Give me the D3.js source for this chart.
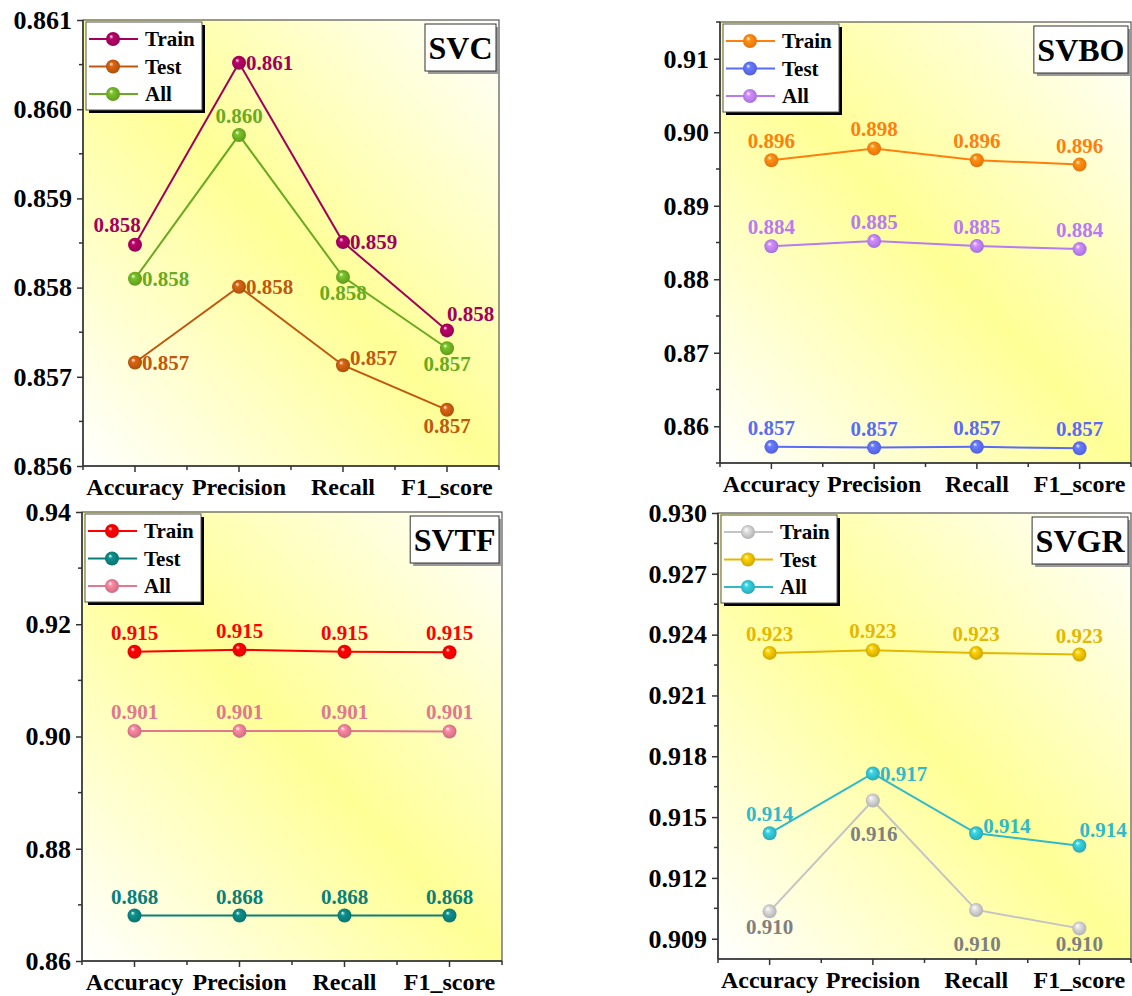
<!DOCTYPE html>
<html>
<head>
<meta charset="utf-8">
<style>
  body { margin: 0; background: #fff; }
  svg { display: block; font-family: "Liberation Serif", "Times New Roman", serif; font-weight: bold; }
  svg text { font-family: "Liberation Serif", "Times New Roman", serif; font-weight: bold; }
</style>
<script src="https://d3js.org/d3.v7.min.js"></script>
</head>
<body>
<svg width="1132" height="996"></svg>
<script>
// categories and series names
var metrics = ["Accuracy", "Precision", "Recall", "F1_score"];
var seriesNames = ["Train", "Test", "All"];

// SVC
var svcTrain = [0.85848, 0.86052, 0.85851, 0.85752];
var svcTest  = [0.85716, 0.85801, 0.85713, 0.85663];
var svcAll   = [0.85810, 0.85971, 0.85812, 0.85732];
var svcTicks = [0.856, 0.857, 0.858, 0.859, 0.860, 0.861];

// SVBO
var svboTrain = [0.8962, 0.8978, 0.8962, 0.8956];
var svboTest  = [0.8572, 0.8571, 0.8572, 0.8570];
var svboAll   = [0.88448, 0.8852, 0.88452, 0.8841];
var svboTicks = [0.86, 0.87, 0.88, 0.89, 0.90, 0.91];

// SVTF
var svtfTrain = [0.9151, 0.91545, 0.9151, 0.9150];
var svtfTest  = [0.8681, 0.8681, 0.8681, 0.8681];
var svtfAll   = [0.9010, 0.9010, 0.9010, 0.9009];
var svtfTicks = [0.86, 0.88, 0.90, 0.92, 0.94];

// SVGR
var svgrTrain = [0.91035, 0.91582, 0.91042, 0.90951];
var svgrTest  = [0.9231, 0.92323, 0.9231, 0.92302];
var svgrAll   = [0.9142, 0.91715, 0.9142, 0.91359];
var svgrTicks = [0.909, 0.912, 0.915, 0.918, 0.921, 0.924, 0.927, 0.930];

// where each value label sits relative to its point: [dx, dy, anchor]
var place = {
  t:  [0, -12, "middle"],
  b:  [0, 23, "middle"],
  bb: [1, 41, "middle"],
  r:  [7, 7, "start"],
  ru: [7, 0, "start"],
  tr: [0, -9, "start"],
  tl: [-18, -13, "middle"]
};

var panels = [
  { title: "SVC", x0: 83, y0: 20, x1: 499, y1: 466, domain: [0.856, 0.861], ticks: svcTicks, fmt: ".3f",
    series: [
      { values: svcTrain, color: "#a3005c", text: "#a3005c", pos: ["tl", "r", "r", "tr"] },
      { values: svcTest,  color: "#c0580f", text: "#c0580f", pos: ["r", "r", "ru", "b"] },
      { values: svcAll,   color: "#6aaa22", text: "#6aaa22", pos: ["r", "t", "b", "b"] }
    ] },
  { title: "SVBO", x0: 720, y0: 22, x1: 1131, y1: 463, domain: [0.855, 0.915], ticks: svboTicks, fmt: ".2f",
    series: [
      { values: svboTrain, color: "#ff7f0e", text: "#ff7f0e", pos: ["t", "t", "t", "t"] },
      { values: svboTest,  color: "#5a6bf5", text: "#5a6bf5", pos: ["t", "t", "t", "t"] },
      { values: svboAll,   color: "#b77bf2", text: "#b77bf2", pos: ["t", "t", "t", "t"] }
    ] },
  { title: "SVTF", x0: 82, y0: 512, x1: 502, y1: 961, domain: [0.86, 0.94], ticks: svtfTicks, fmt: ".2f",
    series: [
      { values: svtfTrain, color: "#ff0000", text: "#ff0000", pos: ["t", "t", "t", "t"] },
      { values: svtfTest,  color: "#0a7f7a", text: "#0a7f7a", pos: ["t", "t", "t", "t"] },
      { values: svtfAll,   color: "#e0788e", text: "#e0788e", pos: ["t", "t", "t", "t"] }
    ] },
  { title: "SVGR", x0: 718, y0: 513, x1: 1131, y1: 959, domain: [0.908, 0.930], ticks: svgrTicks, fmt: ".3f",
    series: [
      { values: svgrTrain, color: "#c4c4c4", text: "#808080", pos: ["b", "bb", "bb", "b"] },
      { values: svgrTest,  color: "#e5b700", text: "#e5b700", pos: ["t", "t", "t", "t"] },
      { values: svgrAll,   color: "#30bac8", text: "#30bac8", pos: ["t", "r", "ru", "tr"] }
    ] }
];

var svg = d3.select("svg");
var defs = svg.append("defs");

// background gradient of the plot areas
var bg = defs.append("linearGradient").attr("id", "bg")
  .attr("x1", 0).attr("y1", 1).attr("x2", 1).attr("y2", 0);
bg.append("stop").attr("offset", 0).attr("stop-color", "#ffffff");
bg.append("stop").attr("offset", 0.5).attr("stop-color", "#ffff96");
bg.append("stop").attr("offset", 1).attr("stop-color", "#ffffff");

function sphere(color) {
  var id = "sp" + color.replace("#", "");
  if (defs.select("#" + id).empty()) {
    var g = defs.append("radialGradient").attr("id", id)
      .attr("cx", 0.5).attr("cy", 0.5).attr("r", 0.55).attr("fx", 0.35).attr("fy", 0.3);
    g.append("stop").attr("offset", 0).attr("stop-color", "#ffffff");
    g.append("stop").attr("offset", 0.28).attr("stop-color", d3.color(color).brighter(0.4));
    g.append("stop").attr("offset", 1).attr("stop-color", d3.color(color).darker(0.35));
  }
  return "url(#" + id + ")";
}

panels.forEach(function(p) {
  var w = p.x1 - p.x0, h = p.y1 - p.y0;
  var g = svg.append("g").attr("transform", "translate(" + p.x0 + "," + p.y0 + ")");

  var x = d3.scaleBand().domain(metrics).range([0, w]);
  var y = d3.scaleLinear().domain(p.domain).range([h, 0]);
  var cx = function(i) { return x(metrics[i]) + x.bandwidth() / 2; };

  g.append("rect").attr("width", w).attr("height", h).attr("fill", "url(#bg)");
  g.append("rect").attr("width", w).attr("height", h)
    .attr("fill", "none").attr("stroke", "#555").attr("stroke-width", 1.2);

  // x axis
  var xa = g.append("g").attr("transform", "translate(0," + h + ")")
    .call(d3.axisBottom(x).tickSize(6).tickPadding(6))
    .attr("font-family", null).attr("font-size", null);
  xa.select(".domain").remove();
  xa.selectAll("text").attr("font-size", 24).attr("fill", "#000");
  xa.selectAll("line").attr("stroke", "#333").attr("stroke-width", 1.5);
  var xMinor = metrics.map(function(m) { return x(m); }).concat([w]);
  xa.selectAll(".minor").data(xMinor).enter().append("line")
    .attr("x1", function(d) { return d; }).attr("x2", function(d) { return d; })
    .attr("y1", 0).attr("y2", 4).attr("stroke", "#333").attr("stroke-width", 1.5);

  // y axis
  var ya = g.append("g")
    .call(d3.axisLeft(y).tickValues(p.ticks).tickFormat(d3.format(p.fmt)).tickSize(6).tickPadding(5))
    .attr("font-family", null).attr("font-size", null);
  ya.select(".domain").remove();
  ya.selectAll("text").attr("font-size", 26).attr("fill", "#000");
  ya.selectAll("line").attr("stroke", "#333").attr("stroke-width", 1.5);
  var step = p.ticks[1] - p.ticks[0], yMinor = [];
  for (var i = -1; i < p.ticks.length; i++) {
    var v = p.ticks[0] + (i + 0.5) * step;
    if (v >= p.domain[0] - 1e-9 && v <= p.domain[1] + 1e-9) yMinor.push(v);
  }
  ya.selectAll(".minor").data(yMinor).enter().append("line")
    .attr("x1", -4).attr("x2", 0)
    .attr("y1", function(d) { return y(d); }).attr("y2", function(d) { return y(d); })
    .attr("stroke", "#333").attr("stroke-width", 1.5);

  // axis lines
  g.append("line").attr("x1", 0).attr("x2", 0).attr("y1", 0).attr("y2", h)
    .attr("stroke", "#333").attr("stroke-width", 1.5);
  g.append("line").attr("x1", 0).attr("x2", w).attr("y1", h).attr("y2", h)
    .attr("stroke", "#333").attr("stroke-width", 1.5);

  var line = d3.line().x(function(d, i) { return cx(i); }).y(function(d) { return y(d); });

  p.series.forEach(function(s) {
    g.append("path").datum(s.values).attr("d", line)
      .attr("fill", "none").attr("stroke", s.color).attr("stroke-width", 2);
  });
  p.series.forEach(function(s) {
    g.selectAll(null).data(s.values).enter().append("circle")
      .attr("cx", function(d, i) { return cx(i); })
      .attr("cy", function(d) { return y(d); })
      .attr("r", 7).attr("fill", sphere(s.color));
  });
  p.series.forEach(function(s) {
    g.selectAll(null).data(s.values).enter().append("text")
      .attr("x", function(d, i) { return cx(i) + place[s.pos[i]][0]; })
      .attr("y", function(d, i) { return y(d) + place[s.pos[i]][1]; })
      .attr("text-anchor", function(d, i) { return place[s.pos[i]][2]; })
      .attr("font-size", 21).attr("fill", s.text)
      .text(function(d) { return d3.format(".3f")(d); });
  });

  // legend
  var lg = g.append("g").attr("transform", "translate(3,2)");
  lg.append("rect").attr("x", 3).attr("y", 3).attr("width", 116).attr("height", 88).attr("fill", "#000");
  lg.append("rect").attr("width", 116).attr("height", 88).attr("fill", "#fff")
    .attr("stroke", "#555").attr("stroke-width", 1);
  seriesNames.forEach(function(n, k) {
    var s = p.series[k], yy = 17 + k * 27.5;
    lg.append("line").attr("x1", 3).attr("x2", 52).attr("y1", yy).attr("y2", yy)
      .attr("stroke", s.color).attr("stroke-width", 2);
    lg.append("circle").attr("cx", 27).attr("cy", yy).attr("r", 7).attr("fill", sphere(s.color));
    lg.append("text").attr("x", 59).attr("y", yy + 7).attr("font-size", 21).attr("fill", "#000").text(n);
  });

  // title box
  var tg = g.append("g");
  var tt = tg.append("text").attr("font-size", 32).attr("fill", "#000").text(p.title);
  var tw = tt.node().getComputedTextLength();
  var bw = tw + 7, bx = w - 3 - bw;
  tg.insert("rect", "text").attr("x", bx + 3).attr("y", 7).attr("width", bw).attr("height", 47).attr("fill", "#999");
  tg.insert("rect", "text").attr("x", bx).attr("y", 4).attr("width", bw).attr("height", 47)
    .attr("fill", "#fff").attr("stroke", "#333").attr("stroke-width", 1);
  tt.attr("x", bx + bw / 2).attr("y", 39).attr("text-anchor", "middle");
});
</script>
</body>
</html>
